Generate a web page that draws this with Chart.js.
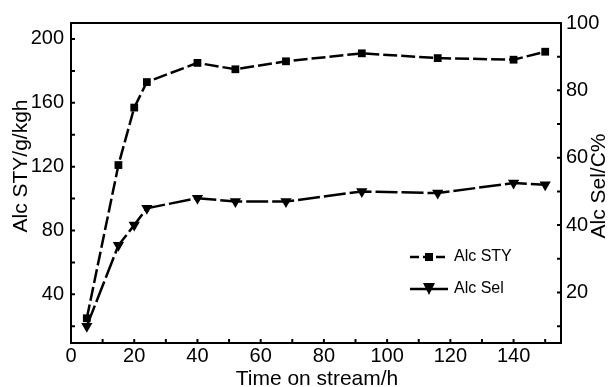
<!DOCTYPE html>
<html>
<head>
<meta charset="utf-8">
<script src="https://cdn.jsdelivr.net/npm/chart.js@4"></script>
<style>
  html, body { margin: 0; padding: 0; background: #fff; }
</style>
</head>
<body>
<canvas id="stabChart" width="610" height="387"></canvas>
<script>
// time on stream (h) and the two series
const hours = [5, 15, 20, 24, 40, 52, 68, 92, 116, 140, 150];
const styValues = [25, 121, 157, 173, 185, 181, 186, 191, 188, 187, 192];
const selValues = [10, 34, 40, 45, 48, 47, 47, 50, 49.5, 52.5, 52];

// tick positions (all) and which ones get a label
const xTicks = [0, 10, 20, 30, 40, 50, 60, 70, 80, 90, 100, 110, 120, 130, 140, 150];
const xLabels = [0, 20, 40, 60, 80, 100, 120, 140];
const styTicks = [20, 40, 60, 80, 100, 120, 140, 160, 180, 200];
const styLabels = [40, 80, 120, 160, 200];
const selTicks = [10, 20, 30, 40, 50, 60, 70, 80, 90, 100];
const selLabels = [20, 40, 60, 80, 100];

const FONT = "Arial, 'Liberation Sans', sans-serif";
Chart.defaults.color = '#000';
Chart.defaults.font.family = FONT;

function setTicks(list) {
  return function(scale) {
    scale.ticks = list.map(v => ({ value: v }));
  };
}

function onlyLabels(list) {
  return function(value) {
    return list.includes(value) ? String(value) : '';
  };
}

// frame, inward tick marks, axis titles and the inset legend
const framePlugin = {
  id: 'frame',
  afterDraw(chart) {
    const ctx = chart.ctx;
    const a = chart.chartArea;
    const s = chart.scales;
    ctx.save();
    ctx.strokeStyle = '#000';
    ctx.lineWidth = 2;
    ctx.setLineDash([]);
    ctx.strokeRect(a.left, a.top, a.right - a.left, a.bottom - a.top);

    ctx.beginPath();
    s.x.ticks.forEach(t => {
      const px = s.x.getPixelForValue(t.value);
      ctx.moveTo(px, a.bottom);
      ctx.lineTo(px, a.bottom - 4);
    });
    s.y.ticks.forEach(t => {
      const py = s.y.getPixelForValue(t.value);
      ctx.moveTo(a.left, py);
      ctx.lineTo(a.left + 4, py);
    });
    s.y1.ticks.forEach(t => {
      const py = s.y1.getPixelForValue(t.value);
      ctx.moveTo(a.right, py);
      ctx.lineTo(a.right - 4, py);
    });
    ctx.stroke();

    // axis titles
    ctx.fillStyle = '#000';
    ctx.font = '21px ' + FONT;
    ctx.textAlign = 'center';
    ctx.textBaseline = 'middle';
    ctx.fillText('Time on stream/h', (a.left + a.right) / 2 + 1, 379);

    ctx.save();
    ctx.translate(21, 166);
    ctx.rotate(-Math.PI / 2);
    ctx.fillText('Alc STY/g/kgh', 0, 0);
    ctx.restore();

    ctx.save();
    ctx.translate(599, 186);
    ctx.rotate(-Math.PI / 2);
    ctx.fillText('Alc Sel/C%', 0, 0);
    ctx.restore();

    // legend
    const lx0 = 410, lx1 = 448, mx = 429;
    ctx.lineWidth = 2.5;
    ctx.font = '16px ' + FONT;
    ctx.textAlign = 'left';

    ctx.setLineDash([9, 4]);
    ctx.beginPath();
    ctx.moveTo(lx0, 257);
    ctx.lineTo(lx1, 257);
    ctx.stroke();
    ctx.setLineDash([]);
    ctx.fillRect(mx - 4, 253, 8, 8);
    ctx.fillText('Alc STY', 454, 257);

    ctx.beginPath();
    ctx.moveTo(lx0, 289);
    ctx.lineTo(lx1, 289);
    ctx.stroke();
    ctx.beginPath();
    ctx.moveTo(mx - 6, 283);
    ctx.lineTo(mx + 6, 283);
    ctx.lineTo(mx, 295);
    ctx.closePath();
    ctx.fill();
    ctx.fillText('Alc Sel', 454, 289);

    ctx.restore();
  }
};

new Chart(document.getElementById('stabChart'), {
  type: 'line',
  data: {
    datasets: [
      {
        label: 'Alc STY',
        data: hours.map((h, i) => ({ x: h, y: styValues[i] })),
        yAxisID: 'y',
        borderColor: '#000',
        backgroundColor: '#000',
        borderWidth: 2.5,
        borderDash: [14, 4],
        pointStyle: 'rect',
        pointRadius: 5.5,
        pointBackgroundColor: '#000',
        pointBorderWidth: 0,
        tension: 0,
        fill: false
      },
      {
        label: 'Alc Sel',
        data: hours.map((h, i) => ({ x: h, y: selValues[i] })),
        yAxisID: 'y1',
        borderColor: '#000',
        backgroundColor: '#000',
        borderWidth: 2.5,
        borderDash: [22, 4],
        pointStyle: 'triangle',
        pointRotation: 180,
        pointRadius: 6.5,
        pointBackgroundColor: '#000',
        pointBorderWidth: 0,
        tension: 0,
        fill: false
      }
    ]
  },
  options: {
    responsive: false,
    animation: false,
    layout: { padding: { top: 23, left: 0, right: 0, bottom: 0 } },
    plugins: {
      legend: { display: false },
      tooltip: { enabled: false }
    },
    scales: {
      x: {
        type: 'linear',
        min: 0,
        max: 155,
        afterBuildTicks: setTicks(xTicks),
        afterFit(scale) { scale.height = 44; },
        grid: { display: false, drawTicks: false },
        border: { display: false },
        ticks: {
          autoSkip: false,
          maxRotation: 0,
          padding: 1,
          font: { size: 20 },
          callback: onlyLabels(xLabels)
        }
      },
      y: {
        position: 'left',
        min: 9.5,
        max: 210,
        afterBuildTicks: setTicks(styTicks),
        afterFit(scale) { scale.width = 71; },
        grid: { display: false, drawTicks: false },
        border: { display: false },
        ticks: {
          autoSkip: false,
          padding: 7,
          font: { size: 20 },
          callback: onlyLabels(styLabels)
        }
      },
      y1: {
        position: 'right',
        min: 5,
        max: 100,
        afterBuildTicks: setTicks(selTicks),
        afterFit(scale) { scale.width = 49; },
        grid: { display: false, drawTicks: false },
        border: { display: false },
        ticks: {
          autoSkip: false,
          padding: 5,
          font: { size: 20 },
          callback: onlyLabels(selLabels)
        }
      }
    }
  },
  plugins: [framePlugin]
});
</script>
</body>
</html>
